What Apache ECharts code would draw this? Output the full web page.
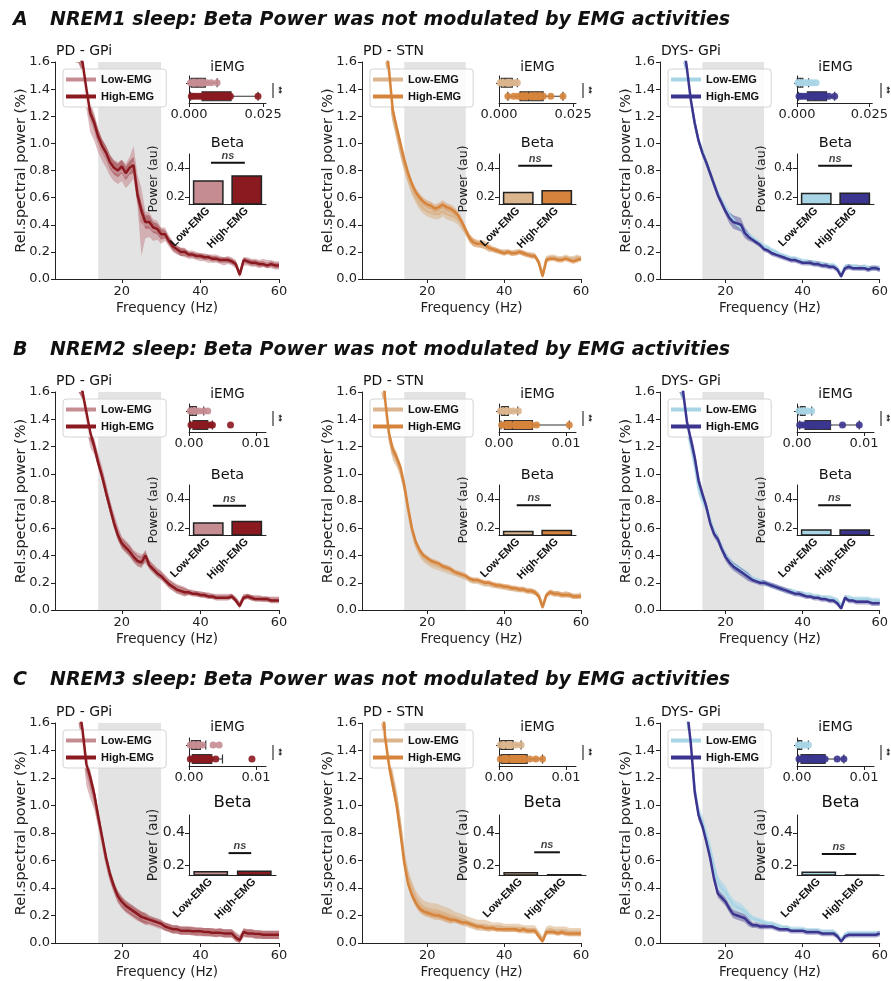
<!DOCTYPE html>
<html>
<head>
<meta charset="utf-8">
<script src="https://cdn.jsdelivr.net/npm/echarts@6/dist/echarts.min.js"></script>
<style>
html, body { margin: 0; padding: 0; background: #fff; }
#chart { width: 891px; height: 981px; }
</style>
</head>
<body>
<div id="chart"></div>
<script>
// frequency grid (Hz) shared by all spectra
var freqs = [7,8,9,10,11,12,13,14,15,16,17,18,19,20,21,22,23,24,25,26,27,28,29,30,31,32,33,34,35,36,37,38,39,40,41,42,43,44,45,46,47,48,49,50,51,52,53,54,55,56,57,58,59,60];
var betaBand = [14, 30];
var groups = ['Low-EMG', 'High-EMG'];

// ---- NREM1 ----
var n1GpiLow  = [2.2,1.9,1.7,1.58,1.35,1.2,1.12,1.02,0.95,0.9, 0.84,0.8,0.78,0.8,0.76,0.8,0.86,0.65,0.42,0.4, 0.4,0.36,0.36,0.32,0.33,0.28,0.24,0.21,0.2,0.19, 0.18,0.18,0.17,0.16,0.16,0.15,0.15,0.15,0.14,0.13, 0.14,0.13,0.11,0.04,0.13,0.13,0.12,0.12,0.11,0.12, 0.11,0.11,0.1,0.1];
var n1GpiHigh = [2.1,1.85,1.65,1.6,1.4,1.22,1.15,1.05,0.98,0.93, 0.86,0.82,0.8,0.83,0.78,0.82,0.84,0.62,0.5,0.42, 0.42,0.38,0.37,0.33,0.33,0.28,0.24,0.22,0.2,0.2, 0.18,0.18,0.17,0.17,0.16,0.16,0.15,0.15,0.14,0.14, 0.14,0.13,0.11,0.03,0.14,0.13,0.12,0.12,0.11,0.11, 0.1,0.11,0.1,0.1];
var n1GpiLowSem  = [0.15,0.12,0.1,0.1,0.1,0.12,0.1,0.09,0.08,0.08, 0.08,0.08,0.08,0.08,0.09,0.1,0.12,0.12,0.25,0.1, 0.09,0.08,0.07,0.06,0.05,0.04,0.04,0.03,0.03,0.03, 0.03,0.03,0.03,0.03,0.03,0.03,0.03,0.03,0.03,0.03, 0.03,0.03,0.03,0.02,0.03,0.03,0.03,0.03,0.03,0.03, 0.03,0.03,0.03,0.03];
var n1GpiHighSem = [0.1,0.08,0.06,0.06,0.05,0.05,0.05,0.05,0.05,0.05, 0.05,0.05,0.05,0.05,0.05,0.05,0.06,0.06,0.06,0.05, 0.05,0.04,0.04,0.04,0.03,0.03,0.03,0.03,0.03,0.03, 0.02,0.02,0.02,0.02,0.02,0.02,0.02,0.02,0.02,0.02, 0.02,0.02,0.02,0.02,0.02,0.02,0.02,0.02,0.02,0.02, 0.02,0.02,0.02,0.02];

var n1StnLow  = [2.4,2.0,1.75,1.5,1.2,1.08,0.95,0.84,0.74,0.66, 0.6,0.55,0.52,0.5,0.49,0.48,0.48,0.5,0.48,0.47, 0.46,0.44,0.4,0.35,0.3,0.27,0.26,0.25,0.24,0.23, 0.22,0.21,0.2,0.2,0.2,0.19,0.2,0.2,0.19,0.18, 0.18,0.17,0.13,0.03,0.15,0.16,0.16,0.15,0.15,0.16, 0.15,0.15,0.16,0.15];
var n1StnHigh = [2.5,2.1,1.8,1.55,1.25,1.12,1.0,0.88,0.78,0.7, 0.64,0.6,0.57,0.55,0.54,0.52,0.53,0.55,0.53,0.52, 0.5,0.47,0.42,0.36,0.3,0.27,0.26,0.26,0.25,0.23, 0.22,0.21,0.2,0.19,0.2,0.19,0.19,0.2,0.19,0.18, 0.17,0.17,0.12,0.02,0.14,0.15,0.15,0.14,0.14,0.15, 0.14,0.13,0.14,0.15];
var n1StnLowSem  = [0.08,0.07,0.06,0.06,0.05,0.05,0.05,0.05,0.04,0.04, 0.04,0.04,0.04,0.04,0.04,0.04,0.04,0.04,0.04,0.04, 0.04,0.04,0.04,0.03,0.03,0.03,0.02,0.02,0.02,0.02, 0.02,0.02,0.02,0.02,0.02,0.02,0.02,0.02,0.02,0.02, 0.02,0.02,0.02,0.02,0.02,0.02,0.02,0.02,0.02,0.02, 0.02,0.02,0.02,0.02];
var n1StnHighSem = [0.06,0.05,0.05,0.04,0.04,0.04,0.03,0.03,0.03,0.03, 0.03,0.03,0.03,0.03,0.03,0.03,0.03,0.03,0.03,0.03, 0.03,0.03,0.03,0.03,0.03,0.03,0.03,0.03,0.03,0.03, 0.02,0.02,0.02,0.02,0.02,0.02,0.02,0.02,0.02,0.02, 0.02,0.02,0.02,0.02,0.02,0.02,0.02,0.02,0.02,0.02, 0.02,0.02,0.02,0.02];

var n1DysLow  = [2.5,2.1,1.75,1.5,1.32,1.15,1.02,0.94,0.86,0.78, 0.7,0.63,0.57,0.52,0.47,0.44,0.4,0.38,0.35,0.32, 0.3,0.28,0.26,0.24,0.23,0.21,0.2,0.18,0.17,0.16, 0.15,0.15,0.14,0.13,0.13,0.12,0.12,0.11,0.11,0.1, 0.1,0.1,0.08,0.03,0.09,0.09,0.09,0.09,0.08,0.09, 0.08,0.08,0.08,0.08];
var n1DysHigh = [2.6,2.2,1.75,1.55,1.32,1.15,1.02,0.93,0.86,0.78, 0.7,0.62,0.56,0.5,0.45,0.42,0.41,0.4,0.34,0.31, 0.29,0.27,0.25,0.22,0.21,0.19,0.18,0.17,0.16,0.15, 0.14,0.14,0.13,0.12,0.12,0.12,0.11,0.11,0.1,0.1, 0.09,0.09,0.07,0.02,0.08,0.09,0.08,0.08,0.08,0.08, 0.07,0.08,0.08,0.07];
var n1DysLowSem  = [0.06,0.05,0.04,0.04,0.03,0.03,0.03,0.03,0.03,0.03, 0.03,0.03,0.03,0.03,0.03,0.03,0.03,0.03,0.03,0.03, 0.02,0.02,0.02,0.02,0.02,0.02,0.02,0.02,0.02,0.02, 0.02,0.02,0.02,0.02,0.02,0.02,0.02,0.02,0.02,0.02, 0.02,0.02,0.02,0.02,0.02,0.02,0.02,0.02,0.02,0.02, 0.02,0.02,0.02,0.02];
var n1DysHighSem = [0.06,0.05,0.05,0.04,0.04,0.04,0.03,0.03,0.03,0.03, 0.03,0.03,0.03,0.03,0.04,0.05,0.05,0.05,0.04,0.03, 0.02,0.02,0.02,0.02,0.02,0.02,0.02,0.02,0.02,0.02, 0.02,0.02,0.02,0.02,0.02,0.02,0.02,0.02,0.02,0.02, 0.02,0.02,0.02,0.02,0.02,0.02,0.02,0.02,0.02,0.02, 0.02,0.02,0.02,0.02];

// ---- NREM2 ----
var n2GpiLow  = [2.3,1.95,1.7,1.6,1.4,1.25,1.2,1.1,1.0,0.88, 0.76,0.66,0.57,0.5,0.47,0.44,0.4,0.38,0.37,0.38, 0.34,0.31,0.28,0.26,0.23,0.2,0.18,0.16,0.15,0.14, 0.13,0.13,0.12,0.12,0.11,0.11,0.1,0.1,0.1,0.1, 0.1,0.1,0.08,0.04,0.1,0.1,0.09,0.09,0.09,0.08, 0.08,0.08,0.08,0.08];
var n2GpiHigh = [2.4,2.0,1.7,1.6,1.45,1.3,1.2,1.08,0.98,0.86, 0.75,0.64,0.55,0.49,0.46,0.43,0.39,0.36,0.35,0.4, 0.33,0.3,0.27,0.25,0.22,0.19,0.17,0.15,0.14,0.13, 0.13,0.12,0.12,0.11,0.11,0.1,0.1,0.09,0.09,0.09, 0.09,0.1,0.07,0.03,0.09,0.1,0.09,0.08,0.08,0.08, 0.08,0.07,0.07,0.07];
var n2GpiLowSem  = [0.1,0.08,0.07,0.06,0.06,0.06,0.06,0.05,0.05,0.05, 0.05,0.05,0.05,0.04,0.04,0.04,0.04,0.04,0.04,0.04, 0.03,0.03,0.03,0.03,0.03,0.03,0.03,0.03,0.03,0.03, 0.02,0.02,0.02,0.02,0.02,0.02,0.02,0.02,0.02,0.02, 0.02,0.02,0.02,0.02,0.02,0.02,0.02,0.02,0.02,0.02, 0.02,0.02,0.02,0.02];
var n2GpiHighSem = [0.08,0.06,0.05,0.05,0.05,0.04,0.04,0.04,0.04,0.04, 0.04,0.04,0.04,0.04,0.04,0.04,0.04,0.04,0.04,0.04, 0.03,0.03,0.03,0.03,0.03,0.03,0.03,0.03,0.03,0.03, 0.02,0.02,0.02,0.02,0.02,0.02,0.02,0.02,0.02,0.02, 0.02,0.02,0.02,0.02,0.02,0.02,0.02,0.02,0.02,0.02, 0.02,0.02,0.02,0.02];

var n2StnLow  = [2.5,1.95,1.5,1.28,1.15,1.1,1.02,0.9,0.73,0.58, 0.48,0.42,0.38,0.36,0.34,0.33,0.32,0.31,0.3,0.29, 0.27,0.26,0.25,0.24,0.22,0.21,0.21,0.2,0.19,0.19, 0.18,0.18,0.17,0.17,0.16,0.16,0.15,0.15,0.15,0.14, 0.14,0.13,0.11,0.03,0.11,0.13,0.12,0.12,0.11,0.12, 0.11,0.1,0.1,0.11];
var n2StnHigh = [2.6,2.0,1.55,1.3,1.18,1.12,1.05,0.92,0.75,0.6, 0.5,0.44,0.4,0.38,0.36,0.35,0.34,0.32,0.31,0.3, 0.28,0.27,0.26,0.25,0.23,0.22,0.22,0.21,0.2,0.2, 0.19,0.18,0.18,0.17,0.17,0.16,0.16,0.15,0.15,0.14, 0.14,0.13,0.1,0.02,0.11,0.13,0.12,0.12,0.11,0.11, 0.11,0.1,0.1,0.1];
var n2StnLowSem  = [0.07,0.06,0.05,0.05,0.05,0.05,0.04,0.04,0.03,0.03, 0.03,0.03,0.03,0.03,0.03,0.03,0.03,0.03,0.03,0.03, 0.02,0.02,0.02,0.02,0.02,0.02,0.02,0.02,0.02,0.02, 0.02,0.02,0.02,0.02,0.02,0.02,0.02,0.02,0.02,0.02, 0.02,0.02,0.02,0.02,0.02,0.02,0.02,0.02,0.02,0.02, 0.02,0.02,0.02,0.02];
var n2StnHighSem = [0.06,0.05,0.04,0.04,0.04,0.04,0.03,0.03,0.03,0.03, 0.02,0.02,0.02,0.02,0.02,0.02,0.02,0.02,0.02,0.02, 0.02,0.02,0.02,0.02,0.02,0.02,0.02,0.02,0.02,0.02, 0.02,0.02,0.02,0.02,0.02,0.02,0.02,0.02,0.02,0.02, 0.02,0.02,0.02,0.02,0.02,0.02,0.02,0.02,0.02,0.02, 0.02,0.02,0.02,0.02];

var n2DysLow  = [2.5,1.95,1.58,1.35,1.22,1.08,0.9,0.82,0.76,0.66, 0.58,0.52,0.46,0.4,0.36,0.33,0.31,0.29,0.27,0.25, 0.23,0.22,0.21,0.2,0.19,0.18,0.17,0.16,0.15,0.14, 0.14,0.13,0.12,0.12,0.11,0.11,0.1,0.1,0.09,0.09, 0.09,0.08,0.07,0.03,0.09,0.09,0.08,0.08,0.08,0.08, 0.08,0.07,0.07,0.07];
var n2DysHigh = [2.6,2.0,1.6,1.38,1.25,1.12,0.95,0.85,0.76,0.64, 0.56,0.52,0.45,0.39,0.35,0.32,0.3,0.28,0.26,0.24, 0.22,0.21,0.2,0.2,0.19,0.18,0.17,0.16,0.15,0.14, 0.13,0.12,0.12,0.11,0.1,0.1,0.09,0.09,0.08,0.08, 0.07,0.07,0.05,0.01,0.09,0.07,0.07,0.06,0.06,0.06, 0.06,0.05,0.05,0.05];
var n2DysLowSem  = [0.08,0.08,0.08,0.07,0.07,0.07,0.06,0.05,0.04,0.03, 0.03,0.03,0.03,0.03,0.03,0.03,0.03,0.03,0.03,0.03, 0.02,0.02,0.02,0.02,0.02,0.02,0.02,0.02,0.02,0.02, 0.02,0.02,0.02,0.02,0.02,0.02,0.02,0.02,0.02,0.02, 0.02,0.02,0.02,0.02,0.02,0.02,0.02,0.02,0.02,0.02, 0.02,0.02,0.02,0.02];
var n2DysHighSem = [0.07,0.06,0.06,0.06,0.06,0.06,0.05,0.04,0.03,0.03, 0.03,0.03,0.03,0.03,0.03,0.03,0.03,0.03,0.03,0.03, 0.02,0.02,0.02,0.02,0.02,0.02,0.02,0.02,0.02,0.02, 0.02,0.02,0.02,0.02,0.02,0.02,0.02,0.02,0.02,0.02, 0.02,0.02,0.02,0.02,0.02,0.02,0.02,0.02,0.02,0.02, 0.02,0.02,0.02,0.02];

// ---- NREM3 ----
var n3GpiLow  = [2.5,2.0,1.7,1.5,1.26,1.15,1.05,0.9,0.75,0.6, 0.48,0.4,0.33,0.29,0.26,0.24,0.22,0.2,0.19,0.17, 0.16,0.15,0.14,0.13,0.12,0.11,0.1,0.1,0.09,0.09, 0.09,0.09,0.08,0.08,0.08,0.08,0.08,0.07,0.08,0.07, 0.07,0.07,0.05,0.03,0.07,0.07,0.07,0.06,0.06,0.06, 0.06,0.06,0.06,0.06];
var n3GpiHigh = [2.6,2.1,1.75,1.55,1.3,1.2,1.08,0.92,0.77,0.62, 0.5,0.41,0.34,0.3,0.27,0.25,0.23,0.21,0.19,0.18, 0.17,0.16,0.15,0.14,0.12,0.11,0.1,0.1,0.09,0.09, 0.09,0.085,0.085,0.085,0.08,0.08,0.075,0.075,0.075,0.07, 0.07,0.07,0.04,0.02,0.08,0.07,0.07,0.065,0.065,0.06, 0.06,0.06,0.06,0.06];
var n3GpiLowSem  = [0.1,0.1,0.1,0.1,0.12,0.1,0.08,0.06,0.05,0.04, 0.04,0.04,0.04,0.04,0.04,0.04,0.04,0.04,0.04,0.04, 0.03,0.03,0.03,0.03,0.03,0.03,0.03,0.03,0.03,0.03, 0.03,0.03,0.03,0.03,0.03,0.03,0.03,0.03,0.03,0.03, 0.03,0.03,0.03,0.03,0.03,0.03,0.03,0.03,0.03,0.03, 0.03,0.03,0.03,0.03];
var n3GpiHighSem = [0.08,0.07,0.06,0.06,0.06,0.05,0.05,0.05,0.04,0.04, 0.04,0.04,0.04,0.04,0.04,0.04,0.04,0.04,0.04,0.04, 0.03,0.03,0.03,0.03,0.03,0.03,0.03,0.03,0.03,0.03, 0.03,0.03,0.03,0.03,0.03,0.03,0.03,0.03,0.03,0.03, 0.03,0.03,0.03,0.03,0.03,0.03,0.03,0.03,0.03,0.03, 0.03,0.03,0.03,0.03];

var n3StnLow  = [2.5,1.85,1.5,1.32,1.18,1.05,0.85,0.62,0.48,0.4, 0.33,0.29,0.26,0.25,0.24,0.24,0.23,0.22,0.21,0.2, 0.19,0.18,0.17,0.16,0.15,0.14,0.13,0.13,0.13,0.12, 0.12,0.12,0.12,0.11,0.11,0.11,0.11,0.11,0.1,0.1, 0.1,0.1,0.06,0.02,0.09,0.1,0.09,0.09,0.09,0.09, 0.08,0.08,0.08,0.08];
var n3StnHigh = [2.6,1.9,1.5,1.3,1.15,1.0,0.8,0.58,0.43,0.35, 0.29,0.25,0.23,0.22,0.21,0.2,0.2,0.19,0.18,0.17, 0.17,0.16,0.15,0.15,0.14,0.13,0.12,0.12,0.11,0.11, 0.11,0.1,0.1,0.1,0.1,0.1,0.1,0.09,0.1,0.09, 0.09,0.09,0.05,0.01,0.08,0.08,0.08,0.07,0.08,0.07, 0.07,0.07,0.07,0.07];
var n3StnLowSem  = [0.1,0.1,0.1,0.09,0.08,0.07,0.06,0.05,0.05,0.05, 0.05,0.05,0.05,0.05,0.05,0.05,0.05,0.05,0.05,0.05, 0.04,0.04,0.04,0.04,0.04,0.04,0.04,0.04,0.04,0.04, 0.03,0.03,0.03,0.03,0.03,0.03,0.03,0.03,0.03,0.03, 0.03,0.03,0.03,0.03,0.03,0.03,0.03,0.03,0.03,0.03, 0.03,0.03,0.03,0.03];
var n3StnHighSem = [0.08,0.07,0.06,0.05,0.05,0.04,0.04,0.04,0.03,0.03, 0.03,0.03,0.03,0.03,0.03,0.03,0.03,0.03,0.03,0.03, 0.02,0.02,0.02,0.02,0.02,0.02,0.02,0.02,0.02,0.02, 0.02,0.02,0.02,0.02,0.02,0.02,0.02,0.02,0.02,0.02, 0.02,0.02,0.02,0.02,0.02,0.02,0.02,0.02,0.02,0.02, 0.02,0.02,0.02,0.02];

var n3DysLow  = [2.7,2.2,1.85,1.65,1.42,1.12,0.95,0.88,0.78,0.68, 0.55,0.44,0.4,0.37,0.32,0.28,0.26,0.25,0.23,0.2, 0.18,0.17,0.16,0.15,0.14,0.14,0.13,0.12,0.11,0.11, 0.1,0.1,0.1,0.1,0.09,0.09,0.09,0.09,0.08,0.08, 0.08,0.08,0.06,0.02,0.06,0.07,0.07,0.07,0.07,0.07, 0.07,0.07,0.07,0.07];
var n3DysHigh = [2.8,2.3,1.9,1.7,1.45,1.1,0.93,0.85,0.74,0.62, 0.47,0.36,0.33,0.3,0.25,0.21,0.2,0.19,0.18,0.15, 0.13,0.13,0.12,0.12,0.12,0.12,0.11,0.1,0.1,0.1, 0.09,0.09,0.09,0.09,0.08,0.08,0.08,0.08,0.07,0.07, 0.07,0.07,0.05,0.01,0.05,0.06,0.06,0.06,0.06,0.06, 0.06,0.06,0.06,0.07];
var n3DysLowSem  = [0.06,0.06,0.05,0.05,0.05,0.05,0.05,0.05,0.05,0.05, 0.05,0.05,0.05,0.05,0.04,0.04,0.04,0.04,0.03,0.03, 0.02,0.02,0.02,0.02,0.02,0.02,0.02,0.02,0.02,0.02, 0.02,0.02,0.02,0.02,0.02,0.02,0.02,0.02,0.02,0.02, 0.02,0.02,0.02,0.02,0.02,0.02,0.02,0.02,0.02,0.02, 0.02,0.02,0.02,0.02];
var n3DysHighSem = [0.06,0.05,0.05,0.04,0.04,0.04,0.04,0.03,0.03,0.03, 0.03,0.03,0.03,0.03,0.03,0.03,0.03,0.03,0.03,0.03, 0.02,0.02,0.02,0.02,0.02,0.02,0.02,0.02,0.02,0.02, 0.02,0.02,0.02,0.02,0.02,0.02,0.02,0.02,0.02,0.02, 0.02,0.02,0.02,0.02,0.02,0.02,0.02,0.02,0.02,0.02, 0.02,0.02,0.02,0.02];

// iEMG boxes [min, q1, median, q3, max] and individual dots
var n1GpiLowBox = [0.0003,0.0008,0.0027,0.0055,0.0095], n1GpiHighBox = [0.0005,0.0044,0.008,0.0142,0.0233];
var n1GpiLowDots = [0.0005,0.001,0.0015,0.002,0.0025,0.003,0.004,0.005,0.006,0.0075,0.0095];
var n1GpiHighDots = [0.0008,0.0015,0.0025,0.0035,0.0045,0.0055,0.0065,0.0075,0.0085,0.0095,0.011,0.0125,0.014,0.0233];
var n1StnLowBox = [0.0002,0.0008,0.002,0.0045,0.0062], n1StnHighBox = [0.003,0.0071,0.01,0.0149,0.0216];
var n1StnLowDots = [0.0004,0.001,0.0016,0.0025,0.0035,0.0045,0.0055,0.0062];
var n1StnHighDots = [0.003,0.005,0.0065,0.0075,0.009,0.0105,0.012,0.0135,0.015,0.0175,0.0216];
var n1DysLowBox = [0.0001,0.0004,0.0012,0.002,0.004], n1DysHighBox = [0.0005,0.0036,0.0065,0.0102,0.013];
var n1DysLowDots = [0.0003,0.0008,0.0015,0.0025,0.0035,0.0045,0.0055,0.0066];
var n1DysHighDots = [0.0007,0.0015,0.0025,0.0035,0.0045,0.0055,0.0065,0.0075,0.0085,0.0095,0.011,0.013];

var n2GpiLowBox = [0.0001,0.0002,0.0005,0.0011,0.0022], n2GpiHighBox = [0.0002,0.0006,0.0015,0.0028,0.0035];
var n2GpiLowDots = [0.0002,0.0006,0.001,0.0015,0.0022,0.0028];
var n2GpiHighDots = [0.0003,0.0007,0.0012,0.0017,0.0022,0.0027,0.0032,0.0035,0.0062];
var n2StnLowBox = [0.0001,0.0004,0.0008,0.0014,0.0028], n2StnHighBox = [0.0003,0.0008,0.002,0.005,0.0105];
var n2StnLowDots = [0.0002,0.0006,0.001,0.0015,0.0021,0.0029];
var n2StnHighDots = [0.0004,0.0008,0.0012,0.0018,0.0025,0.0032,0.004,0.0048,0.0056,0.0105];
var n2DysLowBox = [0.0002,0.0005,0.0008,0.0012,0.0022], n2DysHighBox = [0.0004,0.0012,0.0025,0.005,0.0093];
var n2DysLowDots = [0.0003,0.0007,0.0011,0.0016,0.0022];
var n2DysHighDots = [0.0004,0.0008,0.0013,0.0018,0.0024,0.003,0.0038,0.0046,0.0068,0.0093];

var n3GpiLowBox = [0.0001,0.0004,0.001,0.0017,0.0025], n3GpiHighBox = [0.0001,0.0005,0.0015,0.0034,0.005];
var n3GpiLowDots = [0.0002,0.0006,0.001,0.0015,0.002,0.0036,0.0045];
var n3GpiHighDots = [0.0002,0.0006,0.001,0.0015,0.002,0.0026,0.0032,0.004,0.0094];
var n3StnLowBox = [0.0001,0.0003,0.001,0.0021,0.0033], n3StnHighBox = [0.0002,0.0004,0.0015,0.0042,0.0065];
var n3StnLowDots = [0.0002,0.0007,0.0012,0.0018,0.0025,0.0033];
var n3StnHighDots = [0.0002,0.0006,0.001,0.0016,0.0023,0.003,0.0038,0.0046,0.0055,0.0065];
var n3DysLowBox = [0.0001,0.0002,0.0004,0.0007,0.0017], n3DysHighBox = [0.0002,0.0006,0.0018,0.0042,0.007];
var n3DysLowDots = [0.0002,0.0005,0.0009,0.0013,0.0017];
var n3DysHighDots = [0.0003,0.0008,0.0014,0.002,0.0027,0.0034,0.0042,0.006,0.007];

// beta power bars [low, high]
var n1GpiBeta = [0.317, 0.352], n1StnBeta = [0.235, 0.248], n1DysBeta = [0.228, 0.23];
var n2GpiBeta = [0.239, 0.25],  n2StnBeta = [0.18, 0.187],  n2DysBeta = [0.19, 0.19];
var n3GpiBeta = [0.165, 0.168], n3StnBeta = [0.158, 0.146], n3DysBeta = [0.162, 0.145];

// "ns" bracket [from, to (category units), height]
var n1GpiNs = [0.07, 0.95, 0.438], n1StnNs = [0.0, 0.88, 0.417], n1DysNs = [0.05, 0.93, 0.417];
var n2GpiNs = [0.12, 0.98, 0.355], n2StnNs = [-0.04, 0.85, 0.358], n2DysNs = [0.05, 0.9, 0.358];
var n3GpiNs = [0.41, 0.93, 0.275], n3StnNs = [0.31, 0.9, 0.28], n3DysNs = [0.07, 0.86, 0.27];

var panels = [
  [
    {low: n1GpiLow, high: n1GpiHigh, lowSem: n1GpiLowSem, highSem: n1GpiHighSem, lowBox: n1GpiLowBox, highBox: n1GpiHighBox, lowDots: n1GpiLowDots, highDots: n1GpiHighDots, beta: n1GpiBeta, ns: n1GpiNs},
    {low: n1StnLow, high: n1StnHigh, lowSem: n1StnLowSem, highSem: n1StnHighSem, lowBox: n1StnLowBox, highBox: n1StnHighBox, lowDots: n1StnLowDots, highDots: n1StnHighDots, beta: n1StnBeta, ns: n1StnNs},
    {low: n1DysLow, high: n1DysHigh, lowSem: n1DysLowSem, highSem: n1DysHighSem, lowBox: n1DysLowBox, highBox: n1DysHighBox, lowDots: n1DysLowDots, highDots: n1DysHighDots, beta: n1DysBeta, ns: n1DysNs}
  ],
  [
    {low: n2GpiLow, high: n2GpiHigh, lowSem: n2GpiLowSem, highSem: n2GpiHighSem, lowBox: n2GpiLowBox, highBox: n2GpiHighBox, lowDots: n2GpiLowDots, highDots: n2GpiHighDots, beta: n2GpiBeta, ns: n2GpiNs},
    {low: n2StnLow, high: n2StnHigh, lowSem: n2StnLowSem, highSem: n2StnHighSem, lowBox: n2StnLowBox, highBox: n2StnHighBox, lowDots: n2StnLowDots, highDots: n2StnHighDots, beta: n2StnBeta, ns: n2StnNs},
    {low: n2DysLow, high: n2DysHigh, lowSem: n2DysLowSem, highSem: n2DysHighSem, lowBox: n2DysLowBox, highBox: n2DysHighBox, lowDots: n2DysLowDots, highDots: n2DysHighDots, beta: n2DysBeta, ns: n2DysNs}
  ],
  [
    {low: n3GpiLow, high: n3GpiHigh, lowSem: n3GpiLowSem, highSem: n3GpiHighSem, lowBox: n3GpiLowBox, highBox: n3GpiHighBox, lowDots: n3GpiLowDots, highDots: n3GpiHighDots, beta: n3GpiBeta, ns: n3GpiNs},
    {low: n3StnLow, high: n3StnHigh, lowSem: n3StnLowSem, highSem: n3StnHighSem, lowBox: n3StnLowBox, highBox: n3StnHighBox, lowDots: n3StnLowDots, highDots: n3StnHighDots, beta: n3StnBeta, ns: n3StnNs},
    {low: n3DysLow, high: n3DysHigh, lowSem: n3DysLowSem, highSem: n3DysHighSem, lowBox: n3DysLowBox, highBox: n3DysHighBox, lowDots: n3DysLowDots, highDots: n3DysHighDots, beta: n3DysBeta, ns: n3DysNs}
  ]
];

// layout
var cols = [
  {left: 55, width: 224, inset: 134, low: '#c58c92', high: '#8b1a20', name: 'PD - GPi'},
  {left: 362, width: 219, inset: 137, low: '#dab58d', high: '#d6843c', name: 'PD - STN'},
  {left: 660, width: 221, inset: 137, low: '#a8d5e6', high: '#3b358f', name: 'DYS- GPi'}
];
var rows = [
  {top: 62, height: 217, letter: 'A', title: 'NREM1 sleep: Beta Power was not modulated by EMG activities', titleY: 20,
   emgTitle: 5, emgTop: 14, emgH: 27, emgMax: 0.026, emgTicks: [0, 0.025], emgDec: 3,
   betaTitle: 81, betaTop: 92, betaH: 50, betaW: 77, betaMin: 0.15, betaMax: 0.5, betaFont: 12, betaTitleFont: 14.5, powFont: 12.5},
  {top: 392, height: 218, letter: 'B', title: 'NREM2 sleep: Beta Power was not modulated by EMG activities', titleY: 350,
   emgTitle: 2, emgTop: 12, emgH: 28, emgMax: 0.0115, emgTicks: [0, 0.01], emgDec: 2,
   betaTitle: 83, betaTop: 93, betaH: 50, betaW: 77, betaMin: 0.15, betaMax: 0.5, betaFont: 12, betaTitleFont: 14.5, powFont: 12.5},
  {top: 723, height: 220, letter: 'C', title: 'NREM3 sleep: Beta Power was not modulated by EMG activities', titleY: 680,
   emgTitle: 4, emgTop: 15, emgH: 28, emgMax: 0.0115, emgTicks: [0, 0.01], emgDec: 2,
   betaTitle: 80, betaTop: 92, betaH: 60, betaW: 87, betaMin: 0.14, betaMax: 0.51, betaFont: 14, betaTitleFont: 16.5, powFont: 13.5}
];

var ink = '#222';
var FONT = 'DejaVu Sans';
var grid = [], xAxis = [], yAxis = [], series = [], legend = [], graphic = [];

function spine(extra) {
  var a = {axisLine: {show: true, onZero: false, lineStyle: {color: ink, width: 1}}, splitLine: {show: false}, nameMoveOverlap: false};
  for (var k in extra) a[k] = extra[k];
  return a;
}

// mean +/- sem band, drawn as one polygon through the axes
function bandSeries(mx, my, mean, sem, color, op) {
  var rowsData = freqs.map(function (f, i) { return [f, mean[i] - sem[i], mean[i] + sem[i]]; });
  return {
    type: 'custom', xAxisIndex: mx, yAxisIndex: my, silent: true, z: 2, animation: false,
    data: rowsData,
    renderItem: function (params, api) {
      if (params.dataIndex !== 0) return null;
      var pts = [];
      rowsData.forEach(function (d) { pts.push(api.coord([d[0], d[1]])); });
      for (var i = rowsData.length - 1; i >= 0; i--) pts.push(api.coord([rowsData[i][0], rowsData[i][2]]));
      var cs = params.coordSys;
      pts = echarts.graphic.clipPointsByRect(pts, {x: cs.x, y: cs.y, width: cs.width, height: cs.height});
      return {type: 'polygon', shape: {points: pts}, style: {fill: color, opacity: op}};
    }
  };
}

rows.forEach(function (row, r) {
  graphic.push({type: 'text', x: 13, y: row.titleY, style: {text: row.letter, fontSize: 19, fontWeight: 'bold', fontStyle: 'italic', fontFamily: FONT, fill: '#111', verticalAlign: 'middle'}});
  graphic.push({type: 'text', x: 50, y: row.titleY, style: {text: row.title, fontSize: 19, fontWeight: 'bold', fontStyle: 'italic', fontFamily: FONT, fill: '#111', verticalAlign: 'middle'}});

  cols.forEach(function (col, c) {
    var d = panels[r][c];
    var tag = '|' + (r * 3 + c);

    // ---- main spectrum ----
    var gi = grid.length;
    grid.push({left: col.left, top: row.top, width: col.width, height: row.height});
    var mx = xAxis.length;
    xAxis.push(spine({type: 'value', gridIndex: gi, min: 3, max: 60,
      axisTick: {show: true, length: 4, customValues: [20, 40, 60], lineStyle: {color: ink}},
      axisLabel: {customValues: [20, 40, 60], fontSize: 13, fontFamily: FONT, color: ink, margin: 6},
      name: 'Frequency (Hz)', nameLocation: 'middle', nameGap: 22,
      nameTextStyle: {fontSize: 13.5, fontFamily: FONT, color: ink}}));
    var my = yAxis.length;
    yAxis.push(spine({type: 'value', gridIndex: gi, min: 0, max: 1.6, interval: 0.2,
      axisTick: {show: true, length: 4, lineStyle: {color: ink}},
      axisLabel: {fontSize: 13, fontFamily: FONT, color: ink, margin: 5, formatter: function (v) { return v.toFixed(1); }},
      name: 'Rel.spectral power (%)', nameLocation: 'middle', nameGap: 26,
      nameTextStyle: {fontSize: 14.5, fontFamily: FONT, color: ink}}));

    // grey beta range
    series.push({type: 'custom', xAxisIndex: mx, yAxisIndex: my, silent: true, z: 1, animation: false,
      data: [betaBand],
      renderItem: function (params, api) {
        var p0 = api.coord([api.value(0), 1.6]), p1 = api.coord([api.value(1), 0]);
        return {type: 'rect', shape: {x: p0[0], y: p0[1], width: p1[0] - p0[0], height: p1[1] - p0[1]}, style: {fill: '#e3e3e3'}};
      }});
    series.push(bandSeries(mx, my, d.low, d.lowSem, col.low, 0.6));
    series.push(bandSeries(mx, my, d.high, d.highSem, col.high, 0.42));
    series.push({type: 'line', name: 'Low-EMG' + tag, xAxisIndex: mx, yAxisIndex: my, symbol: 'none',
      data: freqs.map(function (f, i) { return [f, d.low[i]]; }),
      itemStyle: {color: col.low}, lineStyle: {color: col.low, width: 2.5}, z: 3, animation: false});
    series.push({type: 'line', name: 'High-EMG' + tag, xAxisIndex: mx, yAxisIndex: my, symbol: 'none',
      data: freqs.map(function (f, i) { return [f, d.high[i]]; }),
      itemStyle: {color: col.high}, lineStyle: {color: col.high, width: 2.5}, z: 4, animation: false});

    legend.push({left: col.left + 8, top: row.top + 7, orient: 'vertical', selectedMode: false,
      data: ['Low-EMG' + tag, 'High-EMG' + tag],
      formatter: function (n) { return n.split('|')[0]; },
      icon: 'rect', itemWidth: 30, itemHeight: 4, itemGap: 6, itemTextGap: 7,
      textStyle: {fontFamily: 'Liberation Sans', fontWeight: 'bold', fontSize: 11, color: '#111'},
      backgroundColor: 'rgba(255,255,255,0.85)', borderColor: '#d4d4d4', borderWidth: 1, borderRadius: 3,
      padding: [5, 12, 5, 3]});

    graphic.push({type: 'text', x: col.left + 1, y: row.top - 11,
      style: {text: col.name, fontSize: 14, fontFamily: FONT, fill: '#111', verticalAlign: 'middle'}});

    // ---- iEMG inset ----
    var eLeft = col.left + col.inset, eTop = row.top + row.emgTop, eW = 77;
    var ge = grid.length;
    grid.push({left: eLeft, top: eTop, width: eW, height: row.emgH});
    var ex = xAxis.length;
    xAxis.push(spine({type: 'value', gridIndex: ge, min: 0, max: row.emgMax, z: 10,
      axisTick: {show: true, length: 4, customValues: row.emgTicks, lineStyle: {color: ink}},
      axisLabel: {customValues: row.emgTicks, fontSize: 13, fontFamily: FONT, color: ink, margin: 5,
        formatter: (function (dec) { return function (v) { return v.toFixed(dec); }; })(row.emgDec)}}));
    var ey = yAxis.length;
    yAxis.push(spine({type: 'category', gridIndex: ge, data: groups, inverse: true, z: 10,
      axisTick: {show: true, alignWithLabel: true, length: 3, lineStyle: {color: ink}},
      axisLabel: {show: false}}));
    series.push({type: 'boxplot', xAxisIndex: ex, yAxisIndex: ey, boxWidth: [9, 9], z: 10, silent: true, animation: false,
      itemStyle: {borderColor: '#333', borderWidth: 1.2},
      data: [{value: d.lowBox, itemStyle: {color: col.low}}, {value: d.highBox, itemStyle: {color: col.high}}]});
    series.push({type: 'scatter', xAxisIndex: ex, yAxisIndex: ey, symbolSize: 7, z: 11, silent: true, animation: false,
      itemStyle: {color: col.low, opacity: 0.9},
      data: d.lowDots.map(function (v) { return [v, 0]; })});
    series.push({type: 'scatter', xAxisIndex: ex, yAxisIndex: ey, symbolSize: 7, z: 11, silent: true, animation: false,
      itemStyle: {color: col.high, opacity: 0.9},
      data: d.highDots.map(function (v) { return [v, 1]; })});
    graphic.push({type: 'text', x: eLeft + eW / 2, y: row.top + row.emgTitle,
      style: {text: 'iEMG', fontSize: 13.5, fontFamily: FONT, fill: '#111', align: 'center', verticalAlign: 'middle'}});
    graphic.push({type: 'line', shape: {x1: eLeft + eW + 7, y1: eTop + 7, x2: eLeft + eW + 7, y2: eTop + 22},
      style: {stroke: '#333', lineWidth: 1.2}});
    graphic.push({type: 'text', x: eLeft + eW + 12, y: eTop + 14, rotation: -Math.PI / 2,
      style: {text: '**', fontSize: 9, fontWeight: 'bold', fontFamily: 'Liberation Sans', fill: '#222', align: 'center', verticalAlign: 'middle'}});

    // ---- Beta inset ----
    var bLeft = col.left + col.inset, bTop = row.top + row.betaTop;
    var gb = grid.length;
    grid.push({left: bLeft, top: bTop, width: row.betaW, height: row.betaH});
    var bx = xAxis.length;
    xAxis.push(spine({type: 'category', gridIndex: gb, data: groups, z: 10,
      axisTick: {show: false},
      axisLabel: {interval: 0, rotate: 45, fontSize: 11, fontWeight: 'bold', fontFamily: 'Liberation Sans', color: '#111', margin: 5}}));
    var bxv = xAxis.length;
    xAxis.push({type: 'value', gridIndex: gb, min: -0.5, max: 1.5, show: false, axisLine: {onZero: false}});
    var by = yAxis.length;
    yAxis.push(spine({type: 'value', gridIndex: gb, min: row.betaMin, max: row.betaMax, z: 10,
      axisTick: {show: true, length: 4, customValues: [0.2, 0.4], lineStyle: {color: ink}},
      axisLabel: {customValues: [0.2, 0.4], fontSize: row.betaFont, fontFamily: FONT, color: ink, margin: 4,
        formatter: function (v) { return v.toFixed(1); }},
      name: 'Power (au)', nameLocation: 'middle', nameGap: 29,
      nameTextStyle: {fontSize: row.powFont, fontFamily: FONT, color: ink}}));
    series.push({type: 'bar', xAxisIndex: bx, yAxisIndex: by, barWidth: '80%', clip: true, z: 10, silent: true, animation: false,
      itemStyle: {borderColor: '#222', borderWidth: 1.5},
      data: [{value: d.beta[0], itemStyle: {color: col.low}}, {value: d.beta[1], itemStyle: {color: col.high}}]});
    series.push({type: 'line', xAxisIndex: bxv, yAxisIndex: by, symbol: 'none', z: 11, silent: true, animation: false,
      lineStyle: {color: '#111', width: 2},
      data: [[d.ns[0], d.ns[2]], [d.ns[1], d.ns[2]]]});
    series.push({type: 'scatter', xAxisIndex: bxv, yAxisIndex: by, symbolSize: 1, z: 11, silent: true, animation: false,
      itemStyle: {color: 'rgba(0,0,0,0)'},
      label: {show: true, formatter: 'ns', position: 'top', distance: 1, fontSize: 11, fontStyle: 'italic', fontWeight: 'bold', fontFamily: 'Liberation Sans', color: '#111'},
      data: [[(d.ns[0] + d.ns[1]) / 2, d.ns[2]]]});
    graphic.push({type: 'text', x: bLeft + row.betaW / 2, y: row.top + row.betaTitle,
      style: {text: 'Beta', fontSize: row.betaTitleFont, fontFamily: FONT, fill: '#111', align: 'center', verticalAlign: 'middle'}});
  });
});

var chart = echarts.init(document.getElementById('chart'), null, {renderer: 'canvas'});
chart.setOption({
  backgroundColor: '#fff',
  animation: false,
  grid: grid,
  xAxis: xAxis,
  yAxis: yAxis,
  legend: legend,
  series: series,
  graphic: {elements: graphic}
});
</script>
</body>
</html>
